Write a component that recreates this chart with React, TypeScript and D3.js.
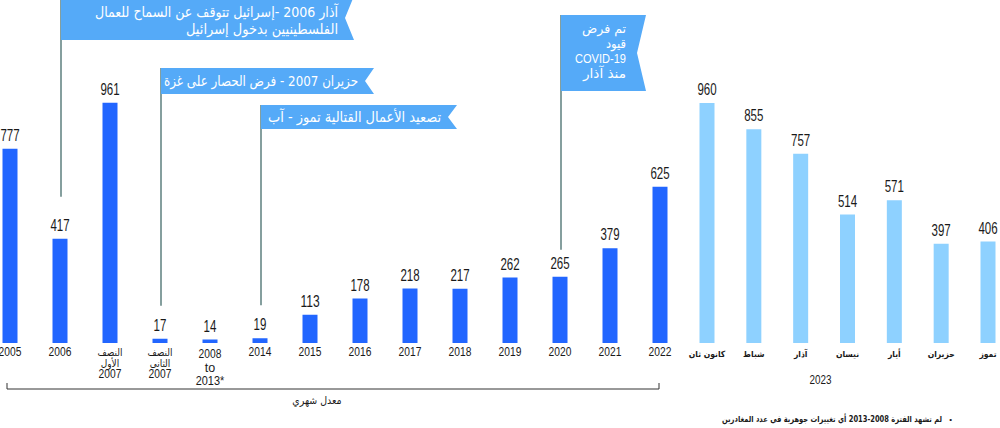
import React from "react";
import * as d3 from "d3";

const yearCats = ["2005", "2006", "H1-2007", "H2-2007", "2008-2013", "2014", "2015", "2016", "2017", "2018", "2019", "2020", "2021", "2022"];
const yearLabels: string[][] = [["2005"], ["2006"], ["النصف", "الأول", "2007"], ["النصف", "الثاني", "2007"], ["2008", "to", "2013*"], ["2014"], ["2015"], ["2016"], ["2017"], ["2018"], ["2019"], ["2020"], ["2021"], ["2022"]];
const yearValues = [777, 417, 961, 17, 14, 19, 113, 178, 218, 217, 262, 265, 379, 625];

const monthCats = ["كانون ثان", "شباط", "آذار", "نيسان", "أيار", "حزيران", "تموز"];
const monthValues = [960, 855, 757, 514, 571, 397, 406];

const annotations = [
  { cat: "2006", lines: ["آذار 2006 -إسرائيل تتوقف عن السماح للعمال", "الفلسطينيين بدخول إسرائيل"], widths: [243, 152], top: -4, bottom: 40, right: 354, gap: 42 },
  { cat: "H2-2007", lines: ["حزيران 2007 - فرض الحصار على غزة"], widths: [194], top: 68, bottom: 94, right: 374, gap: 33 },
  { cat: "2014", lines: ["تصعيد الأعمال القتالية تموز - آب"], widths: [173], top: 105, bottom: 129, right: 457, gap: 33 },
  { cat: "2020", lines: ["تم فرض", "قيود", "COVID-19", "منذ آذار"], widths: [44, 20, 51, 43], top: 15, bottom: 91, right: 646, gap: 27 },
];

const bracketLabel = "معدل شهري";
const yearGroupLabel = "2023";
const footnoteBullet = "•";
const footnote = "لم تشهد الفترة 2008-2013 أي تغييرات جوهرية في عدد المغادرين";

const W = 1000, H = 428;
const BASE = 343;
const DARK = "#2266ff";
const LIGHT = "#8ed1ff";
const BOX = "#55aaf8";
const LINE = "#5d7f7e";
const NUM_FONT = "'Liberation Sans', Arial, sans-serif";
const AR_FONT = "'DejaVu Sans Condensed', 'DejaVu Sans', sans-serif";
const isArabic = (t: string) => /[\u0600-\u06FF]/.test(t);

export default function App() {
  const xYear = d3.scalePoint<string>().domain(yearCats).range([10, 660]);
  const xMonth = d3.scalePoint<string>().domain(monthCats).range([707, 988]);
  const y = d3.scaleLinear().domain([0, 1000]).range([BASE, BASE - 250]);
  const bw = 15;

  const numLabel = (x: number, yy: number, v: number, key: string) => {
    const s = String(v);
    return (
      <text key={key} x={x} y={yy} textAnchor="middle" fontSize={16} fontFamily={NUM_FONT} fill="#1a1a1a"
        textLength={s.length * 6.4} lengthAdjust="spacingAndGlyphs">
        {s}
      </text>
    );
  };

  return (
    <svg width={W} height={H} style={{ position: "absolute", left: 0, top: 0, background: "#fff" }}>
      {annotations.map((a, i) => {
        const x0 = xYear(a.cat)! + 1;
        const mid = (a.top + a.bottom) / 2;
        const notch = 9;
        const path = `M${x0},${a.top} L${a.right},${a.top} L${a.right - notch},${mid} L${a.right},${a.bottom} L${x0},${a.bottom} Z`;
        const idx = yearCats.indexOf(a.cat);
        const yEnd = y(yearValues[idx]) - a.gap;
        const multi = a.lines.length > 2;
        const fs = multi ? 13 : 14.5;
        const lh = multi ? 15 : 17;
        const textRight = multi ? a.right - 20 : a.right - 16;
        const firstBase = multi ? a.top + 18 : a.lines.length > 1 ? a.top + 21 : a.top + (a.bottom - a.top) / 2 + 5;
        return (
          <g key={i}>
            <line x1={x0} x2={x0} y1={a.top} y2={yEnd} stroke={LINE} strokeWidth={1.5} />
            <path d={path} fill={BOX} />
            {a.lines.map((t, j) => {
              const ar = isArabic(t);
              return (
                <text key={j} x={textRight} y={firstBase + j * lh} fill="#fff" fontSize={fs}
                  fontFamily={ar ? AR_FONT : NUM_FONT} textAnchor="end"
                  textLength={a.widths[j]} lengthAdjust="spacingAndGlyphs">
                  {t}
                </text>
              );
            })}
          </g>
        );
      })}

      {yearCats.map((c, i) => (
        <g key={c}>
          <rect x={xYear(c)! - bw / 2} y={y(yearValues[i])} width={bw} height={BASE - y(yearValues[i])} fill={DARK} />
          {numLabel(xYear(c)!, y(yearValues[i]) - 8, yearValues[i], "v")}
          {yearLabels[i].map((t, j) => {
            const isRange = c === "2008-2013";
            const lh = isRange ? 13.5 : 11;
            const ar = isArabic(t);
            const digits = /^[0-9*]+$/.test(t);
            return (
              <text key={j} x={xYear(c)!} y={(isRange ? 358 : 356) + j * lh} textAnchor="middle"
                fontSize={ar ? 10 : 12.5} fontFamily={ar ? AR_FONT : NUM_FONT} fill="#1a1a1a"
                textLength={digits ? t.length * 5.7 : undefined} lengthAdjust="spacingAndGlyphs">
                {t}
              </text>
            );
          })}
        </g>
      ))}

      {monthCats.map((c, i) => (
        <g key={c}>
          <rect x={xMonth(c)! - bw / 2} y={y(monthValues[i])} width={bw} height={BASE - y(monthValues[i])} fill={LIGHT} />
          {numLabel(xMonth(c)!, y(monthValues[i]) - 8, monthValues[i], "v")}
          <text x={xMonth(c)!} y={357} textAnchor="middle" fontSize={8.5} fontWeight="bold" fontFamily={AR_FONT} fill="#1a1a1a">
            {c}
          </text>
        </g>
      ))}

      <path d={`M${xYear(yearCats[0])! - 3},383 V389 H${xYear(yearCats[yearCats.length - 1])! - 1} V383`} fill="none" stroke="#333" strokeWidth={1} />
      <text x={317} y={404} textAnchor="middle" fontSize={10.5} fontFamily={AR_FONT} fill="#1a1a1a">{bracketLabel}</text>

      <text x={(xMonth(monthCats[0])! + xMonth(monthCats[monthCats.length - 1])!) / 2 - 27} y={384} textAnchor="middle" fontSize={13} fontFamily={NUM_FONT} fill="#1a1a1a"
        textLength={22} lengthAdjust="spacingAndGlyphs">
        {yearGroupLabel}
      </text>

      <text x={952} y={422} textAnchor="end" fontSize={8} fontFamily={NUM_FONT} fill="#1a1a1a">{footnoteBullet}</text>
      <text x={942} y={422} textAnchor="end" fontSize={8.5} fontWeight="bold" fontFamily={AR_FONT} fill="#1a1a1a"
        textLength={220} lengthAdjust="spacingAndGlyphs">
        {footnote}
      </text>
    </svg>
  );
}
